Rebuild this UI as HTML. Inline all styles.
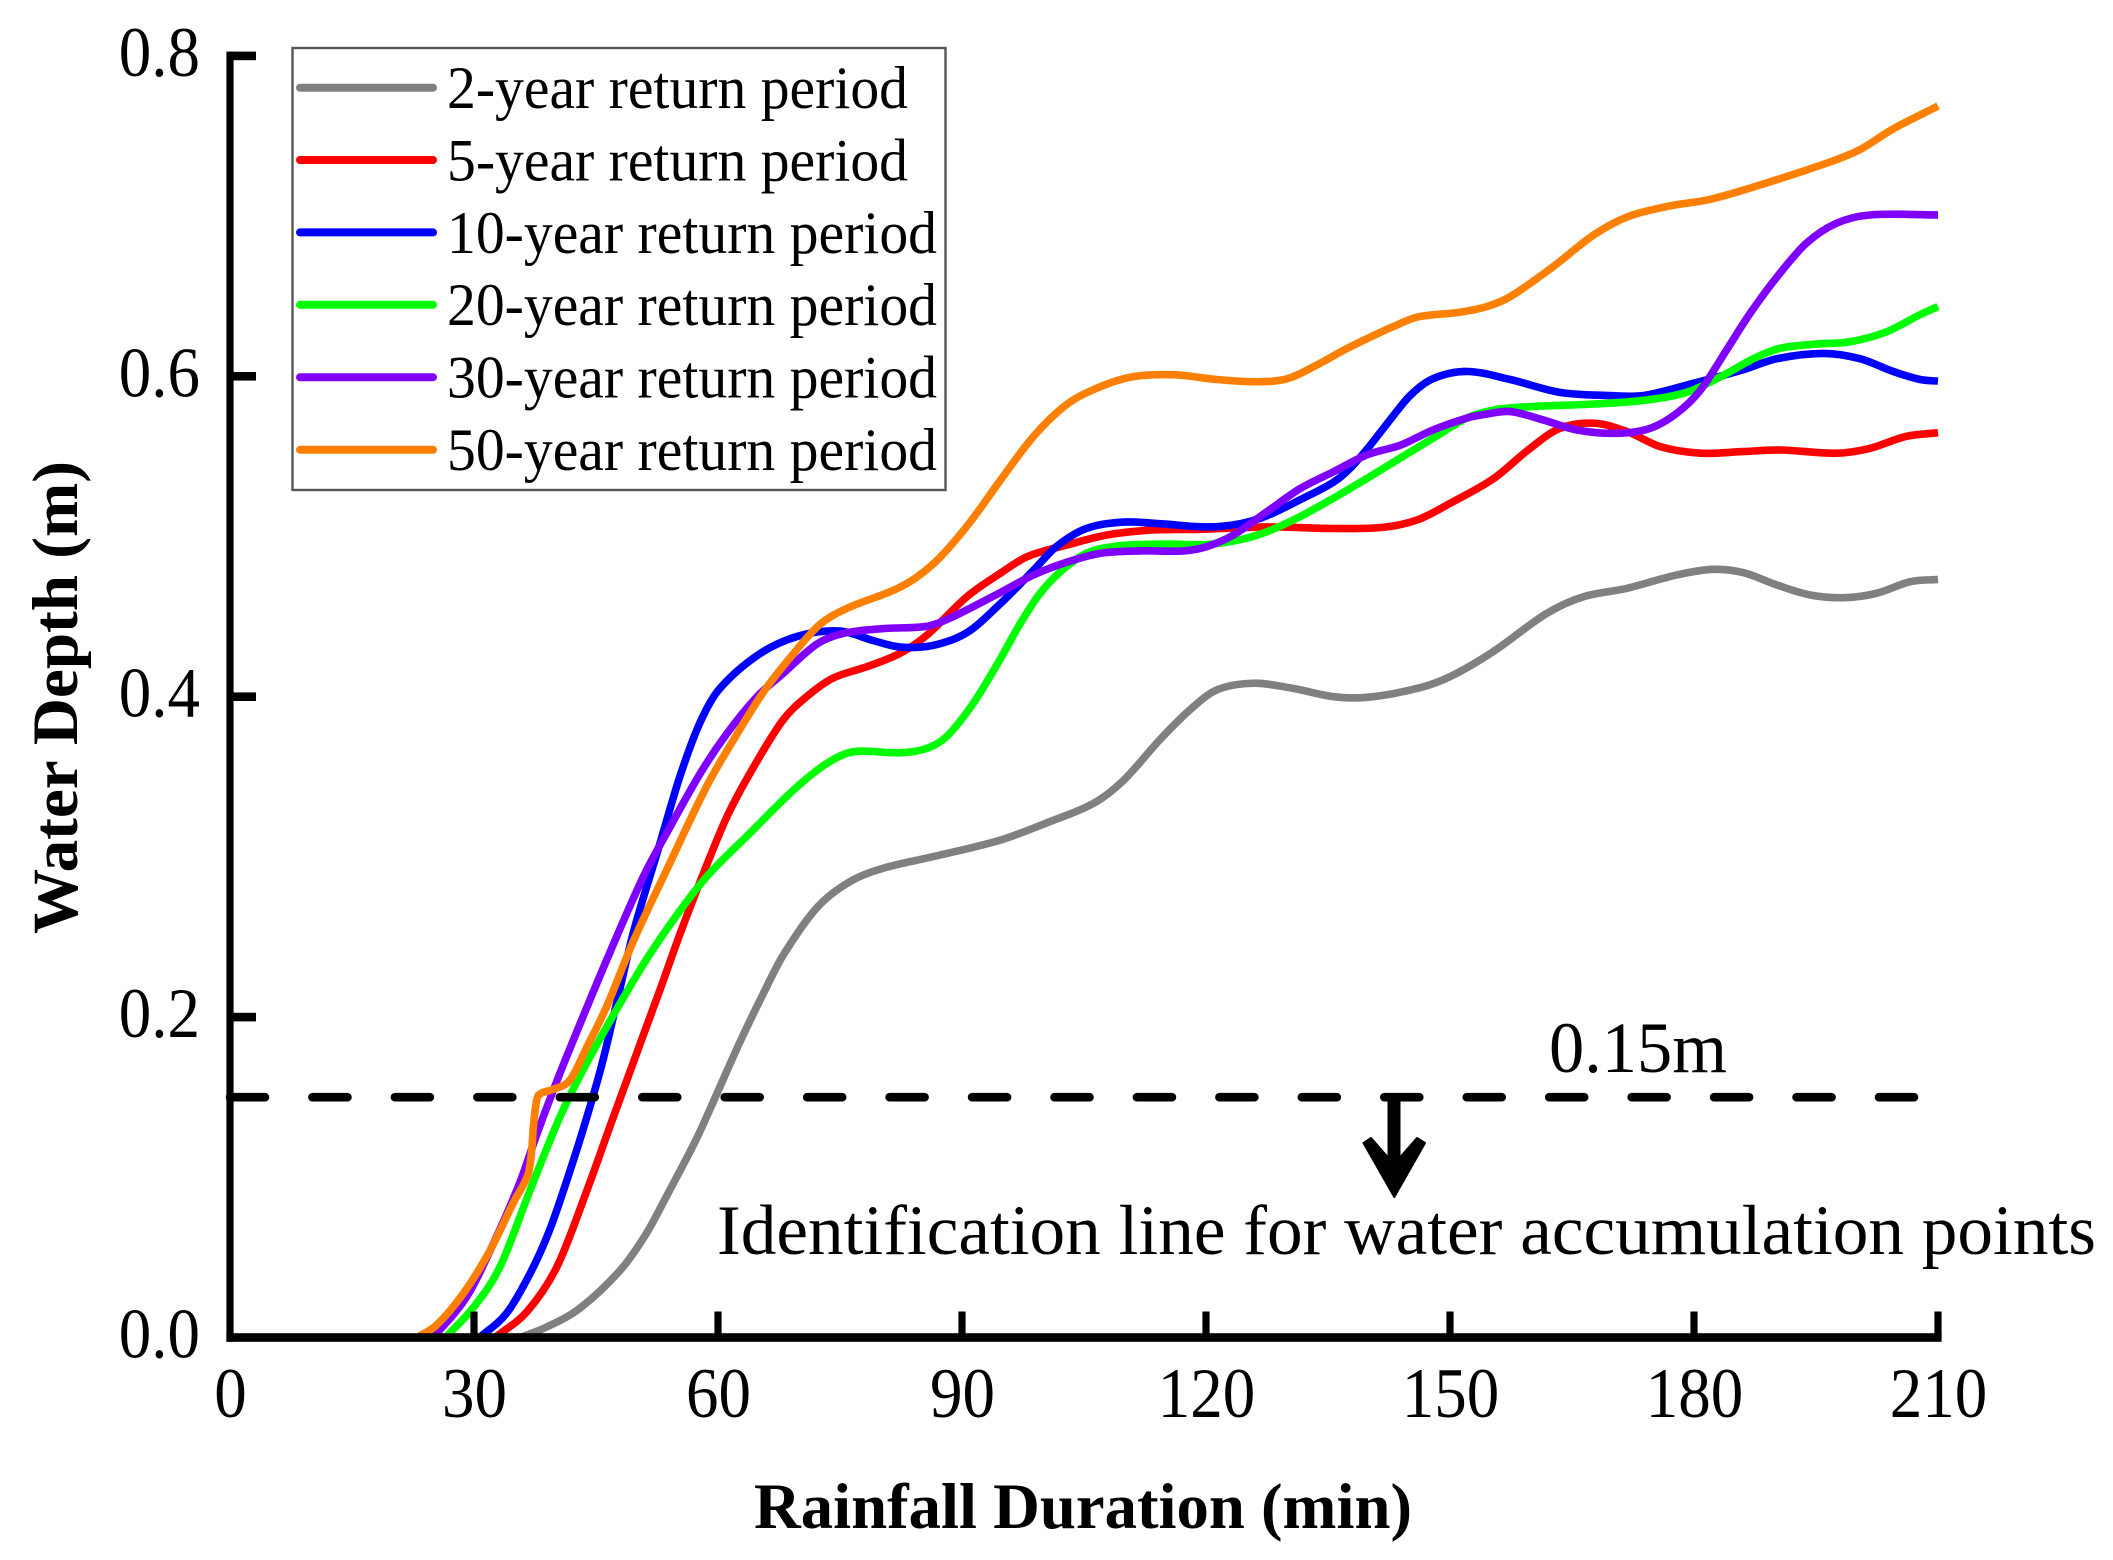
<!DOCTYPE html>
<html lang="en">
<head>
<meta charset="utf-8">
<title>Water depth over rainfall duration</title>
<style>
html,body{margin:0;padding:0;background:#fff;}
svg{display:block;}
text{font-family:"Liberation Serif","Times New Roman",serif;fill:#000;}
</style>
</head>
<body>
<svg id="chart" xmlns="http://www.w3.org/2000/svg" width="2113" height="1560" viewBox="0 0 2113 1560">
  <rect x="0" y="0" width="2113" height="1560" fill="#fff"/>
  <g id="series-layer"></g>
  <g id="threshold-layer"></g>
  <g id="axes-layer"></g>

  <text transform="translate(77,934) rotate(-90)" font-size="65" font-weight="700" textLength="473" lengthAdjust="spacingAndGlyphs">Water Depth (m)</text>
  <text x="754" y="1528" font-size="65" font-weight="700" textLength="658" lengthAdjust="spacingAndGlyphs">Rainfall Duration (min)</text>

  <text transform="translate(1549,1072) scale(1,1.06)" font-size="68" textLength="178" lengthAdjust="spacingAndGlyphs">0.15m</text>
  <path d="M1388.5,1097 L1399.5,1097 L1399.5,1158 L1417,1138 L1425,1143 L1394.3,1197 L1363.5,1143 L1371,1138 L1388.5,1158 Z" fill="#000" stroke="#000" stroke-width="2" stroke-linejoin="round"/>
  <text x="717" y="1254" font-size="71" textLength="1379" lengthAdjust="spacingAndGlyphs">Identification line for water accumulation points</text>

  <g id="legend">
    <rect x="292.5" y="48" width="653" height="442" fill="#fff" stroke="#555" stroke-width="2.4"/>
    <line x1="300" y1="87.7" x2="433" y2="87.7" stroke="#808080" stroke-width="8" stroke-linecap="round"/>
    <text transform="translate(447,108) scale(1,1.05)" font-size="57.5" textLength="461" lengthAdjust="spacingAndGlyphs">2-year return period</text>
    <line x1="300" y1="160" x2="433" y2="160" stroke="#ff0000" stroke-width="8" stroke-linecap="round"/>
    <text transform="translate(447,180.4) scale(1,1.05)" font-size="57.5" textLength="461" lengthAdjust="spacingAndGlyphs">5-year return period</text>
    <line x1="300" y1="232.4" x2="433" y2="232.4" stroke="#0000ff" stroke-width="8" stroke-linecap="round"/>
    <text transform="translate(447,252.8) scale(1,1.05)" font-size="57.5" textLength="490" lengthAdjust="spacingAndGlyphs">10-year return period</text>
    <line x1="300" y1="304.8" x2="433" y2="304.8" stroke="#00ff00" stroke-width="8" stroke-linecap="round"/>
    <text transform="translate(447,325.2) scale(1,1.05)" font-size="57.5" textLength="490" lengthAdjust="spacingAndGlyphs">20-year return period</text>
    <line x1="300" y1="377.2" x2="433" y2="377.2" stroke="#8000ff" stroke-width="8" stroke-linecap="round"/>
    <text transform="translate(447,397.6) scale(1,1.05)" font-size="57.5" textLength="490" lengthAdjust="spacingAndGlyphs">30-year return period</text>
    <line x1="300" y1="449.8" x2="433" y2="449.8" stroke="#ff8000" stroke-width="8" stroke-linecap="round"/>
    <text transform="translate(447,470) scale(1,1.05)" font-size="57.5" textLength="490" lengthAdjust="spacingAndGlyphs">50-year return period</text>
  </g>
</svg>
<script>
const xTickValues = [0, 30, 60, 90, 120, 150, 180, 210];
const xTickLabels = ["0", "30", "60", "90", "120", "150", "180", "210"];
const yTickValues = [0, 0.2, 0.4, 0.6, 0.8];
const yTickLabels = ["0.0", "0.2", "0.4", "0.6", "0.8"];
const thresholdDepth = [0.15];

const time2 = [35.7,39,43,48,51.2,53.7,57.4,59.8,62.7,65.6,68,72.1,76.2,80.3,86.4,94.7,100.8,106.2,109.9,114.3,118,121.3,125.8,130.7,135.7,139.8,146,150,155.3,161.9,166.4,171.7,177.9,182.4,186.1,190.2,194.3,198.4,202.4,206.6,210];
const depth2 = [0,0.0067,0.0182,0.0421,0.065,0.0885,0.1245,0.1515,0.1845,0.215,0.2385,0.268,0.2845,0.2929,0.3001,0.3105,0.322,0.3335,0.348,0.373,0.3917,0.4042,0.4084,0.4052,0.4,0.3996,0.4052,0.4125,0.4281,0.452,0.4624,0.4676,0.476,0.4795,0.4774,0.4697,0.4635,0.4618,0.4645,0.4718,0.4732];

const time5 = [32.6,36.5,40.2,43.9,46.7,48.8,51.2,52.9,55.3,57.8,61.1,64.4,68,70.9,74.1,78.3,82.4,85.7,90.6,94.7,98,102.9,107.9,113.2,119.3,127.5,135.7,141.7,146,150,155.4,159.6,163.5,167.8,171.8,175.9,180.8,186,190.6,197.5,201.6,206,210];
const depth5 = [0,0.0161,0.0442,0.092,0.1316,0.1607,0.194,0.2175,0.2515,0.2845,0.3251,0.3563,0.3855,0.4,0.4115,0.4187,0.4271,0.4385,0.4624,0.477,0.4874,0.4947,0.501,0.504,0.5045,0.506,0.505,0.5057,0.5104,0.5207,0.5363,0.554,0.5675,0.5707,0.5654,0.556,0.552,0.553,0.554,0.552,0.555,0.5624,0.5648];

const time10 = [30.7,34,36.9,39.3,41.8,43.9,45.7,47.5,49.6,52.9,55.3,57.8,60.2,65.2,70,75,79.1,82.4,86.4,90.6,94.7,98.8,101.6,105.3,109.9,114.3,120.1,124.2,127.5,131.6,135.7,137.7,139.8,142.2,145.1,147.9,152.1,157.4,163.5,169.7,173.8,179.9,186,190.2,195.9,200.4,204.5,207.8,210];
const depth10 = [0,0.0151,0.04,0.0671,0.104,0.138,0.17,0.208,0.253,0.309,0.35,0.384,0.405,0.427,0.438,0.441,0.435,0.431,0.432,0.44,0.458,0.479,0.4937,0.505,0.509,0.508,0.506,0.508,0.513,0.523,0.534,0.5425,0.5545,0.57,0.588,0.5985,0.603,0.598,0.59,0.588,0.588,0.5956,0.604,0.611,0.6143,0.611,0.603,0.598,0.597];

const time20 = [26.5,30,33.2,36.9,40.6,44.3,50.4,54.5,58.6,63.9,69.3,73.4,76.6,82.4,85.7,88.1,91.4,94.7,97.2,99.6,102.1,105.3,109,115.1,120.1,124.2,127.5,131.6,135.7,139.8,143.9,147.9,152.1,155.4,159.6,167.8,173.8,179.1,183.3,187.4,190.6,194.7,199.2,203.7,207.8,210];
const depth20 = [0,0.0192,0.0442,0.092,0.138,0.1755,0.2294,0.2606,0.2876,0.3147,0.3418,0.3584,0.3656,0.365,0.3678,0.3751,0.396,0.4235,0.446,0.4645,0.478,0.4895,0.494,0.4953,0.495,0.498,0.503,0.5125,0.524,0.5363,0.549,0.5613,0.574,0.579,0.581,0.5827,0.585,0.59,0.5998,0.6112,0.6175,0.62,0.6216,0.6278,0.6385,0.6435];

const time30 = [25,29.1,32.4,35.6,37.7,39.8,41.6,46.3,50.8,53.7,57.8,61.1,64.8,68,72.2,75.4,80.3,85.7,88.5,94.7,98.8,102.9,107,111.9,117.2,120.1,123.4,127.5,131.6,135.7,139.8,143.9,147.9,152.1,154,157.4,161.5,165.6,170.5,174.6,177.9,180.8,184,186.9,190.2,193.8,197.5,201.6,210];
const depth30 = [0,0.0255,0.0588,0.0963,0.1265,0.155,0.178,0.2355,0.2875,0.315,0.352,0.377,0.4,0.4145,0.433,0.4395,0.4425,0.444,0.449,0.465,0.476,0.484,0.4895,0.491,0.491,0.4937,0.501,0.5155,0.53,0.5405,0.551,0.557,0.5665,0.574,0.576,0.578,0.5727,0.5665,0.5644,0.5675,0.577,0.5914,0.6164,0.6393,0.662,0.683,0.6955,0.7007,0.7007];

const time50 = [23,25.4,28.7,32,34.8,36.7,37.1,37.3,37.7,38.1,39.8,41.8,43.9,46.3,49.6,53.7,58.6,61.9,65.6,69.3,72.5,75.8,81.6,84.4,87.3,91,94.7,98.8,102.9,107,111.1,116,121.3,126.3,130,133.6,137,139.8,143,146,151.2,154.5,157.4,162.7,167.6,171.8,176.7,182,188.1,196.3,200.4,204.5,210];
const depth50 = [0,0.0078,0.0276,0.0546,0.0838,0.1025,0.117,0.1317,0.148,0.152,0.155,0.1607,0.1815,0.2065,0.2475,0.292,0.344,0.373,0.403,0.427,0.445,0.455,0.4665,0.4745,0.487,0.509,0.535,0.5625,0.5825,0.5935,0.5998,0.601,0.598,0.5966,0.5985,0.607,0.6165,0.6235,0.631,0.637,0.64,0.6435,0.6497,0.6685,0.688,0.6995,0.706,0.7105,0.7194,0.733,0.7415,0.7545,0.7687];

const seriesColors = ["#808080", "#ff0000", "#0000ff", "#00ff00", "#8000ff", "#ff8000"];
const seriesNames = ["2-year", "5-year", "10-year", "20-year", "30-year", "50-year"];
const seriesTimes = [time2, time5, time10, time20, time30, time50];
const seriesDepths = [depth2, depth5, depth10, depth20, depth30, depth50];

const SVG_NS = "http://www.w3.org/2000/svg";
const X_LEFT = 230, X_RIGHT = 1938, X_MAX = 210;
const Y_ZERO = 1337.5, Y_TOP = 55.9, Y_MAX = 0.8;
function xScale(t) { return X_LEFT + (t / X_MAX) * (X_RIGHT - X_LEFT); }
function yScale(v) { return Y_ZERO - (v / Y_MAX) * (Y_ZERO - Y_TOP); }

function smoothPath(ts, vs) {
  const px = ts.map(xScale);
  const py = vs.map(yScale);
  const n = px.length;
  const slope = [];
  for (let i = 0; i < n; i++) {
    const a = Math.max(0, i - 1), b = Math.min(n - 1, i + 1);
    slope.push((py[b] - py[a]) / (px[b] - px[a]));
  }
  let d = "M" + px[0].toFixed(2) + "," + py[0].toFixed(2);
  for (let i = 0; i < n - 1; i++) {
    const h = (px[i + 1] - px[i]) / 3;
    d += " C" + (px[i] + h).toFixed(2) + "," + (py[i] + slope[i] * h).toFixed(2) +
         " " + (px[i + 1] - h).toFixed(2) + "," + (py[i + 1] - slope[i + 1] * h).toFixed(2) +
         " " + px[i + 1].toFixed(2) + "," + py[i + 1].toFixed(2);
  }
  return d;
}

const seriesLayer = document.getElementById("series-layer");
seriesTimes.forEach(function (ts, idx) {
  const path = document.createElementNS(SVG_NS, "path");
  
  
  path.setAttribute("d", smoothPath(ts, seriesDepths[idx]));
  path.setAttribute("fill", "none");
  path.setAttribute("stroke", seriesColors[idx]);
  path.setAttribute("stroke-width", "7.6");
  path.setAttribute("stroke-linejoin", "round");
  seriesLayer.appendChild(path);
});

const thresholdLayer = document.getElementById("threshold-layer");
const dashed = document.createElementNS(SVG_NS, "line");


dashed.setAttribute("x1", xScale(0));
dashed.setAttribute("x2", xScale(207.6));
dashed.setAttribute("y1", yScale(thresholdDepth[0]));
dashed.setAttribute("y2", yScale(thresholdDepth[0]));
dashed.setAttribute("stroke", "#000");
dashed.setAttribute("stroke-width", "8.6");
dashed.setAttribute("stroke-linecap", "round");
dashed.setAttribute("stroke-dasharray", "35 47.45");
thresholdLayer.appendChild(dashed);

const axesLayer = document.getElementById("axes-layer");
function addRect(name, x, y, w, h) {
  const r = document.createElementNS(SVG_NS, "rect");
  
  
  r.setAttribute("x", x);
  r.setAttribute("y", y);
  r.setAttribute("width", w);
  r.setAttribute("height", h);
  r.setAttribute("fill", "#000");
  axesLayer.appendChild(r);
}
addRect("y-axis-line", X_LEFT - 3.6, yScale(Y_MAX) - 4.3, 7.2, Y_ZERO - yScale(Y_MAX) + 8.6);
addRect("x-axis-line", X_LEFT - 3.6, Y_ZERO - 4.3, X_RIGHT - X_LEFT + 7.2, 8.6);

xTickValues.forEach(function (v, i) {
  if (v !== 0) {
    addRect("x-tick-" + v, xScale(v) - 3.6, Y_ZERO - 26, 7.2, 26);
  }
  const t = document.createElementNS(SVG_NS, "text");
  
  
  t.setAttribute("transform", "translate(" + (xScale(v) + 0.5) + ",1417) scale(1,1.1)");
  t.setAttribute("font-size", "65");
  t.setAttribute("text-anchor", "middle");
  t.textContent = xTickLabels[i];
  axesLayer.appendChild(t);
});

yTickValues.forEach(function (v, i) {
  if (v !== 0) {
    addRect("y-tick-" + v, X_LEFT, yScale(v) - 4.3, 26, 8.6);
  }
  const t = document.createElementNS(SVG_NS, "text");
  
  
  t.setAttribute("transform", "translate(200," + (yScale(v) + 20) + ") scale(1,1.1)");
  t.setAttribute("font-size", "65");
  t.setAttribute("text-anchor", "end");
  t.textContent = yTickLabels[i];
  axesLayer.appendChild(t);
});
</script>
</body>
</html>
